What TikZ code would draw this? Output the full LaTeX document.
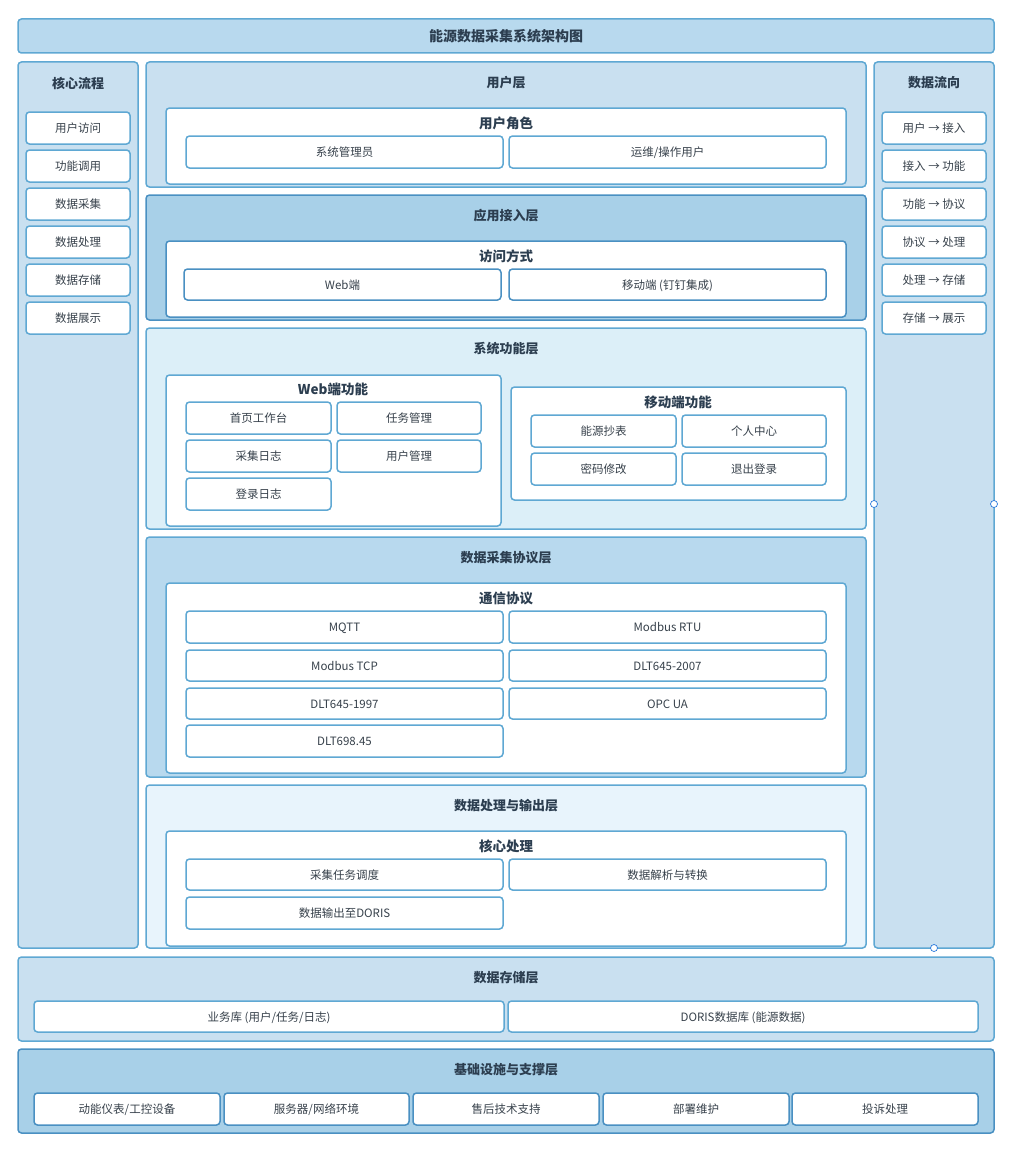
\documentclass[tikz,border=0pt]{standalone}
\usepackage{fontspec}
\setmainfont{Noto Sans CJK SC}
\usepackage{tikz}

\definecolor{lineblue}{RGB}{95,168,211}
\definecolor{deepblue}{RGB}{74,144,194}
\definecolor{paleblue}{RGB}{201,224,240}
\definecolor{midblue}{RGB}{168,208,232}
\definecolor{skyblue}{RGB}{184,217,238}
\definecolor{iceblue}{RGB}{220,239,248}
\definecolor{mistblue}{RGB}{232,244,252}
\definecolor{inkdark}{RGB}{44,62,80}
\definecolor{inkgrey}{RGB}{55,65,75}
\definecolor{handleblue}{RGB}{40,120,220}

\tikzset{
  panel/.style={draw=lineblue, line width=1.5pt, rounded corners=3.5pt, inner sep=0pt},
  darkpanel/.style={panel, draw=deepblue},
  groupbox/.style={draw=lineblue, line width=1.5pt, rounded corners=3.5pt, inner sep=0pt, fill=white},
  itembox/.style={draw=lineblue, line width=1.5pt, rounded corners=3.5pt, inner sep=0pt, fill=white,
    text=inkgrey, font=\fontsize{11.5}{13}\selectfont, text height=1.1em, text depth=0.12em},
  darkitem/.style={itembox, draw=deepblue},
  layertitle/.style={text=inkdark, font=\fontsize{13}{15}\selectfont\bfseries},
  grouptitle/.style={text=inkdark, font=\fontsize{13.5}{15}\selectfont\bfseries},
  handle/.style={draw=handleblue, fill=white, line width=0.7pt, circle, inner sep=0pt, minimum size=7pt},
}

% box from corner (x1,y1) to corner (x2,y2), text in the middle
\newcommand{\cell}[7][itembox]{%
  \pgfmathsetmacro{\cw}{#5-#3}\pgfmathsetmacro{\ch}{#6-#4}%
  \pgfmathsetmacro{\cx}{(#3+#5)/2}\pgfmathsetmacro{\cy}{(#4+#6)/2}%
  \node[#1, minimum width=\cw pt, minimum height=\ch pt] (#2) at (\cx,\cy) {#7};}

\begin{document}
\begin{tikzpicture}[x=1pt, y=-1pt]
  \useasboundingbox (0,0) rectangle (1027,1164);

  % title bar
  \cell[panel, fill=skyblue, text=inkdark, font=\fontsize{14}{16}\selectfont\bfseries,
    text height=1.15em, text depth=0.12em]{title}{18}{19}{994}{53}{能源数据采集系统架构图}

  % left column: core flow
  \cell[panel, fill=paleblue]{flow}{18}{62}{138}{948}{}
  \node[layertitle] (flowT) at (78,83) {核心流程};
  \cell{f1}{26}{112}{130}{144}{用户访问}
  \cell{f2}{26}{150}{130}{182}{功能调用}
  \cell{f3}{26}{188}{130}{220}{数据采集}
  \cell{f4}{26}{226}{130}{258}{数据处理}
  \cell{f5}{26}{264}{130}{296}{数据存储}
  \cell{f6}{26}{302}{130}{334}{数据展示}

  % right column: data direction
  \cell[panel, fill=paleblue]{dir}{874}{62}{994}{948}{}
  \node[layertitle] (dirT) at (934,83) {数据流向};
  \cell{d1}{882}{112}{986}{144}{用户 → 接入}
  \cell{d2}{882}{150}{986}{182}{接入 → 功能}
  \cell{d3}{882}{188}{986}{220}{功能 → 协议}
  \cell{d4}{882}{226}{986}{258}{协议 → 处理}
  \cell{d5}{882}{264}{986}{296}{处理 → 存储}
  \cell{d6}{882}{302}{986}{334}{存储 → 展示}

  % user layer
  \cell[panel, fill=paleblue]{user}{146}{62}{866}{187}{}
  \node[layertitle] (userT) at (506,83) {用户层};
  \cell[groupbox]{roles}{166}{108}{846}{184}{}
  \node[grouptitle] (rolesT) at (506,123) {用户角色};
  \cell{admin}{186}{136}{503}{168}{系统管理员}
  \cell{oper}{509}{136}{826}{168}{运维/操作用户}

  % access layer
  \cell[darkpanel, fill=midblue]{access}{146}{195}{866}{320}{}
  \node[layertitle] (accessT) at (506,216) {应用接入层};
  \cell[groupbox, draw=deepblue]{ways}{166}{241}{846}{317}{}
  \node[grouptitle] (waysT) at (506,256) {访问方式};
  \cell[darkitem]{web}{184}{269}{501}{300}{Web端}
  \cell[darkitem]{mobile}{509}{269}{826}{300}{移动端 (钉钉集成)}

  % function layer
  \cell[panel, fill=iceblue]{func}{146}{328}{866}{529}{}
  \node[layertitle] (funcT) at (506,349) {系统功能层};
  \cell[groupbox]{webfn}{166}{375}{501}{526}{}
  \node[grouptitle] (webfnT) at (333,389) {Web端功能};
  \cell{home}{186}{402}{331}{434}{首页工作台}
  \cell{task}{337}{402}{481}{434}{任务管理}
  \cell{collog}{186}{440}{331}{472}{采集日志}
  \cell{usermg}{337}{440}{481}{472}{用户管理}
  \cell{loglog}{186}{478}{331}{510}{登录日志}
  \cell[groupbox]{mobfn}{511}{387}{846}{500}{}
  \node[grouptitle] (mobfnT) at (678,402) {移动端功能};
  \cell{meter}{531}{415}{676}{447}{能源抄表}
  \cell{me}{682}{415}{826}{447}{个人中心}
  \cell{pwd}{531}{453}{676}{485}{密码修改}
  \cell{logout}{682}{453}{826}{485}{退出登录}

  % protocol layer
  \cell[panel, fill=skyblue]{proto}{146}{537}{866}{777}{}
  \node[layertitle] (protoT) at (506,558) {数据采集协议层};
  \cell[groupbox]{comm}{166}{583}{846}{773}{}
  \node[grouptitle] (commT) at (506,598) {通信协议};
  \cell{mqtt}{186}{611}{503}{643}{MQTT}
  \cell{rtu}{509}{611}{826}{643}{Modbus RTU}
  \cell{tcp}{186}{650}{503}{681}{Modbus TCP}
  \cell{dlta}{509}{650}{826}{681}{DLT645-2007}
  \cell{dltb}{186}{688}{503}{719}{DLT645-1997}
  \cell{opc}{509}{688}{826}{719}{OPC UA}
  \cell{dltc}{186}{725}{503}{757}{DLT698.45}

  % processing layer
  \cell[panel, fill=mistblue]{proc}{146}{785}{866}{948}{}
  \node[layertitle] (procT) at (506,806) {数据处理与输出层};
  \cell[groupbox]{core}{166}{831}{846}{946}{}
  \node[grouptitle] (coreT) at (506,846) {核心处理};
  \cell{sched}{186}{859}{503}{890}{采集任务调度}
  \cell{parse}{509}{859}{826}{890}{数据解析与转换}
  \cell{out}{186}{897}{503}{929}{数据输出至DORIS}

  % storage layer
  \cell[panel, fill=paleblue]{store}{18}{957}{994}{1041}{}
  \node[layertitle] (storeT) at (506,978) {数据存储层};
  \cell{bizdb}{34}{1001}{504}{1032}{业务库 (用户/任务/日志)}
  \cell{doris}{508}{1001}{978}{1032}{DORIS数据库 (能源数据)}

  % infrastructure layer
  \cell[darkpanel, fill=midblue]{infra}{18}{1049}{994}{1133}{}
  \node[layertitle] (infraT) at (506,1070) {基础设施与支撑层};
  \cell[darkitem]{meters}{34}{1093}{220}{1125}{动能仪表/工控设备}
  \cell[darkitem]{server}{224}{1093}{409}{1125}{服务器/网络环境}
  \cell[darkitem]{support}{413}{1093}{599}{1125}{售后技术支持}
  \cell[darkitem]{deploy}{603}{1093}{789}{1125}{部署维护}
  \cell[darkitem]{complain}{792}{1093}{978}{1125}{投诉处理}

  % selection handles
  \node[handle] (hl) at (874,504) {};
  \node[handle] (hr) at (994,504) {};
  \node[handle] (hb) at (934,948) {};
\end{tikzpicture}
\end{document}
